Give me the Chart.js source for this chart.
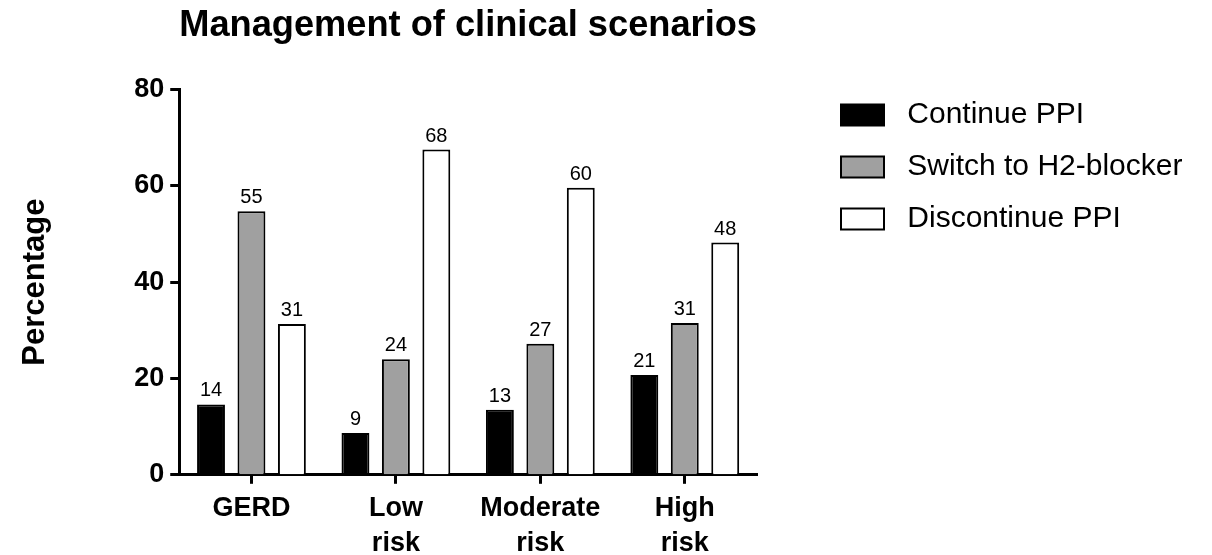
<!DOCTYPE html>
<html lang="en">
<head>
<meta charset="UTF-8">
<title>Management of clinical scenarios</title>
<script src="https://cdn.jsdelivr.net/npm/chart.js@4/dist/chart.umd.min.js"></script>
<style>
  html, body { margin: 0; padding: 0; background: #fff; }
</style>
</head>
<body>
<canvas id="chart" width="1212" height="555"></canvas>
<script>
// Categories (multi-line labels as arrays)
const categories = ['GERD', ['Low', 'risk'], ['Moderate', 'risk'], ['High', 'risk']];

// Series names
const seriesNames = ['Continue PPI', 'Switch to H2-blocker', 'Discontinue PPI'];

// Bar heights (%)
const continuePPI = [14.6, 8.7, 13.5, 20.7];
const switchH2 = [54.7, 24.0, 27.2, 31.5];
const discontinuePPI = [31.3, 67.5, 59.6, 48.2];

// Value labels printed above bars
const continueLabels = ['14', '9', '13', '21'];
const switchLabels = ['55', '24', '27', '31'];
const discontinueLabels = ['31', '68', '60', '48'];

// Y axis ticks
const yTicks = [0, 20, 40, 60, 80];

const FONT = "'Liberation Sans', Arial, Helvetica, sans-serif";
const valueLabels = [continueLabels, switchLabels, discontinueLabels];

// draws the number above every bar, at the bar element position
const barValues = {
  id: 'barValues',
  afterDatasetsDraw(chart) {
    const ctx = chart.ctx;
    ctx.save();
    ctx.font = '20px ' + FONT;
    ctx.fillStyle = '#000';
    ctx.textAlign = 'center';
    ctx.textBaseline = 'alphabetic';
    chart.data.datasets.forEach((ds, di) => {
      chart.getDatasetMeta(di).data.forEach((bar, i) => {
        ctx.fillText(valueLabels[di][i], bar.x, bar.y - 8);
      });
    });
    ctx.restore();
  }
};

// centre the title over the plot and put the legend beside it, like the original
const placeBlocks = {
  id: 'placeBlocks',
  afterLayout(chart) {
    const area = chart.chartArea;
    const title = chart.titleBlock;
    if (title) {
      title.left = area.left;
      title.right = area.right;
    }
    const legend = chart.legend;
    if (legend) {
      const pad = legend.options.labels.padding;
      legend.left = area.right + 84 - pad;
      legend.right = chart.width;
      legend.top = 78;
    }
  }
};

new Chart(document.getElementById('chart'), {
  type: 'bar',
  data: {
    labels: categories,
    datasets: [
      {
        label: seriesNames[0],
        data: continuePPI,
        backgroundColor: '#000000',
        borderColor: '#000000',
        borderWidth: 2
      },
      {
        label: seriesNames[1],
        data: switchH2,
        backgroundColor: '#a0a0a0',
        borderColor: '#000000',
        borderWidth: 2
      },
      {
        label: seriesNames[2],
        data: discontinuePPI,
        backgroundColor: '#ffffff',
        borderColor: '#000000',
        borderWidth: 2
      }
    ]
  },
  options: {
    responsive: false,
    animation: false,
    devicePixelRatio: 1,
    categoryPercentage: 0.84,
    barPercentage: 0.69,
    layout: {
      padding: { left: 10, right: 206, top: 0, bottom: -13 }
    },
    plugins: {
      tooltip: { enabled: false },
      title: {
        display: true,
        text: 'Management of clinical scenarios',
        color: '#000',
        font: { family: FONT, size: 37, weight: 'bold' },
        padding: { top: 4, bottom: 41 }
      },
      legend: {
        display: true,
        position: 'right',
        align: 'start',
        labels: {
          color: '#000',
          font: { family: FONT, size: 30 },
          boxWidth: 43,
          boxHeight: 21,
          padding: 22,
          generateLabels(chart) {
            const items = Chart.defaults.plugins.legend.labels.generateLabels(chart);
            items.forEach(it => { it.text = ' ' + it.text; });
            return items;
          }
        }
      }
    },
    scales: {
      x: {
        offset: true,
        grid: {
          offset: false,
          drawOnChartArea: false,
          drawTicks: true,
          tickLength: 9,
          tickWidth: 3,
          tickColor: '#000'
        },
        border: { display: true, color: '#000', width: 3 },
        ticks: {
          color: '#000',
          padding: 7,
          maxRotation: 0,
          font: { family: FONT, size: 27, weight: 'bold', lineHeight: 1.3 }
        }
      },
      y: {
        min: 0,
        max: 80,
        afterBuildTicks(scale) {
          scale.ticks = yTicks.map(v => ({ value: v }));
        },
        grid: {
          drawOnChartArea: false,
          drawTicks: true,
          tickLength: 9,
          tickWidth: 3,
          tickColor: '#000'
        },
        border: { display: true, color: '#000', width: 3 },
        ticks: {
          color: '#000',
          padding: 6,
          font: { family: FONT, size: 27, weight: 'bold' }
        },
        title: {
          display: true,
          text: 'Percentage',
          color: '#000',
          font: { family: FONT, size: 31, weight: 'bold' },
          padding: { top: 7, bottom: 74 }
        }
      }
    }
  },
  plugins: [barValues, placeBlocks]
});
</script>
</body>
</html>
